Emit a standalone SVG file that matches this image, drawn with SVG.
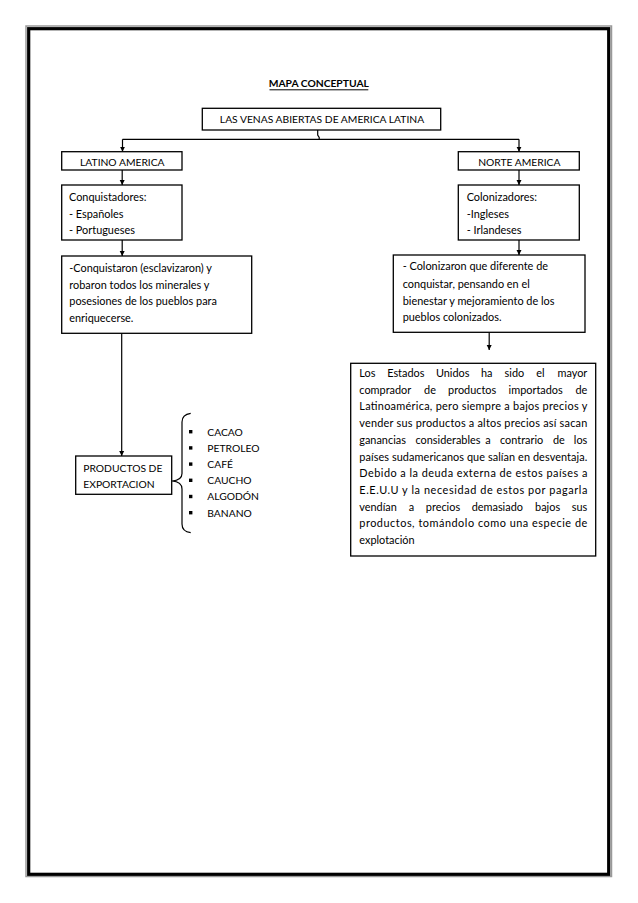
<svg xmlns="http://www.w3.org/2000/svg" width="638" height="903" viewBox="0 0 638 903">
<defs>
<marker id="ah" markerWidth="6" markerHeight="6" refX="5" refY="3" orient="auto" markerUnits="userSpaceOnUse">
<path d="M0,0.5 L5,3 L0,5.5 Z" fill="#000"/>
</marker>
<style>
.box{fill:#fff;stroke:#000;stroke-width:1.3}
.t{font-family:Lato,"Liberation Sans",sans-serif;font-size:10.9px;fill:#000}
.u{font-size:10.3px}
.c{text-anchor:middle}
.e{text-anchor:end}
.ln{fill:none;stroke:#000;stroke-width:1.2}
.ar{fill:none;stroke:#000;stroke-width:1.2;marker-end:url(#ah)}
</style>
</defs>
<rect x="0" y="0" width="638" height="903" fill="#fff"/>
<rect x="26" y="26" width="585.5" height="850.5" fill="none" stroke="#999" stroke-width="1.5"/>
<rect x="28.7" y="28.7" width="580" height="845.6" fill="none" stroke="#000" stroke-width="3.2"/>

<g id="title">
<text class="t u c" x="318.8" y="87" font-weight="bold">MAPA CONCEPTUAL</text>
<line x1="269.5" y1="89.8" x2="368.3" y2="89.8" stroke="#000" stroke-width="1"/>
</g>

<g id="connectors">
<path class="ln" d="M317.7,130 V135 L319.2,137.5 V139.3"/>
<path class="ln" d="M122.5,139.3 H519"/>
<path class="ar" d="M122.5,139.3 V151.7"/>
<path class="ar" d="M519,139.3 V151.7"/>
<path class="ar" d="M122.2,170 V185"/>
<path class="ar" d="M519,170 V185"/>
<path class="ar" d="M122.2,240 V256"/>
<path class="ar" d="M519,240 V255"/>
<path class="ar" d="M121.7,333.3 V456"/>
<path class="ar" d="M489.2,332.3 V350"/>
</g>

<g id="root">
<rect class="box" x="202.3" y="108.3" width="238.4" height="21.7"/>
<text class="t u c" x="322" y="123.3">LAS VENAS ABIERTAS DE AMERICA LATINA</text>
</g>

<g id="latino">
<rect class="box" x="61.7" y="151.7" width="120.3" height="18.3"/>
<text class="t u c" x="122.3" y="166">LATINO AMERICA</text>
</g>

<g id="norte">
<rect class="box" x="458.3" y="151.7" width="121" height="18.3"/>
<text class="t u c" x="519.3" y="166">NORTE AMERICA</text>
</g>

<g id="conquistadores">
<rect class="box" x="61.7" y="185" width="120.3" height="55"/>
<text class="t" x="69" y="201">Conquistadores:</text>
<text class="t" x="69" y="217.5">- Españoles</text>
<text class="t" x="69" y="233.5">- Portugueses</text>
</g>

<g id="colonizadores">
<rect class="box" x="458.3" y="185" width="121" height="55"/>
<text class="t" x="466.7" y="201">Colonizadores:</text>
<text class="t" x="466.7" y="217.5">-Ingleses</text>
<text class="t" x="466.7" y="233.5">- Irlandeses</text>
</g>

<g id="conquistaron">
<rect class="box" x="61.7" y="256" width="190" height="77.3"/>
<text class="t" x="69.3" y="272">-Conquistaron (esclavizaron) y</text>
<text class="t" x="69.3" y="288.5">robaron todos los minerales y</text>
<text class="t" x="69.3" y="305">posesiones de los pueblos para</text>
<text class="t" x="69.3" y="321.5">enriquecerse.</text>
</g>

<g id="colonizaron">
<rect class="box" x="393.3" y="255" width="191.7" height="77.3"/>
<text class="t" x="402.7" y="270">- Colonizaron que diferente de</text>
<text class="t" x="402.7" y="287.5">conquistar, pensando en el</text>
<text class="t" x="402.7" y="304.5">bienestar y mejoramiento de los</text>
<text class="t" x="402.7" y="321">pueblos colonizados.</text>
</g>

<g id="productos">
<rect class="box" x="75.7" y="456" width="96" height="38.3"/>
<text class="t u" x="83.3" y="472">PRODUCTOS DE</text>
<text class="t u" x="83.3" y="488">EXPORTACION</text>
</g>

<g id="lista">
<path class="ln" d="M190.7,413.3 C185,414 182,417 182,422 V473.5 C182,478 178.5,480.5 172,481 C178.5,481.5 182,484 182,489 V524 C182,529 185,532 190.7,532.7"/>
<g fill="#000">
<rect x="189" y="430" width="3.4" height="3.4"/>
<rect x="189" y="446.2" width="3.4" height="3.4"/>
<rect x="189" y="462.4" width="3.4" height="3.4"/>
<rect x="189" y="478.6" width="3.4" height="3.4"/>
<rect x="189" y="494.8" width="3.4" height="3.4"/>
<rect x="189" y="511" width="3.4" height="3.4"/>
</g>
<text class="t u" x="207.3" y="435.5">CACAO</text>
<text class="t u" x="207.3" y="451.7">PETROLEO</text>
<text class="t u" x="207.3" y="467.9">CAFÉ</text>
<text class="t u" x="207.3" y="484.1">CAUCHO</text>
<text class="t u" x="207.3" y="500.3">ALGODÓN</text>
<text class="t u" x="207.3" y="516.5">BANANO</text>
</g>

<g id="estados">
<rect class="box" x="350.7" y="363.3" width="245" height="192.7"/>
<text class="t" y="377"><tspan x="359.3">Los</tspan><tspan x="387.2">Estados</tspan><tspan x="435.9">Unidos</tspan><tspan x="481">ha</tspan><tspan x="504.6">sido</tspan><tspan x="536.2">el</tspan></text>
<text class="t e" x="587.3" y="377">mayor</text>
<text class="t" y="393.7"><tspan x="359.3">comprador</tspan><tspan x="424.1">de</tspan><tspan x="448.1">productos</tspan><tspan x="508.6">importados</tspan></text>
<text class="t e" x="587.3" y="393.7">de</text>
<text class="t" x="359.3" y="410.4" textLength="228" lengthAdjust="spacing">Latinoamérica, pero siempre a bajos precios y</text>
<text class="t" x="359.3" y="427.1" textLength="228" lengthAdjust="spacing">vender sus productos a altos precios así sacan</text>
<text class="t" y="443.8"><tspan x="359.3">ganancias</tspan><tspan x="415.5">considerables</tspan><tspan x="485.2">a</tspan><tspan x="500">contrario</tspan><tspan x="552.9">de</tspan></text>
<text class="t e" x="587.3" y="443.8">los</text>
<text class="t" x="359.3" y="460.5" textLength="228" lengthAdjust="spacing">países sudamericanos que salían en desventaja.</text>
<text class="t" x="359.3" y="477.2" textLength="228" lengthAdjust="spacing">Debido a la deuda externa de estos países a</text>
<text class="t" x="359.3" y="493.9" textLength="228" lengthAdjust="spacing">E.E.U.U y la necesidad de estos por pagarla</text>
<text class="t" y="510.6"><tspan x="359.3">vendían</tspan><tspan x="408.7">a</tspan><tspan x="425.8">precios</tspan><tspan x="471.7">demasiado</tspan><tspan x="535.1">bajos</tspan></text>
<text class="t e" x="587.3" y="510.6">sus</text>
<text class="t" x="359.3" y="527.3" textLength="228" lengthAdjust="spacing">productos, tomándolo como una especie de</text>
<text class="t" x="359.3" y="544">explotación</text>
</g>
</svg>
